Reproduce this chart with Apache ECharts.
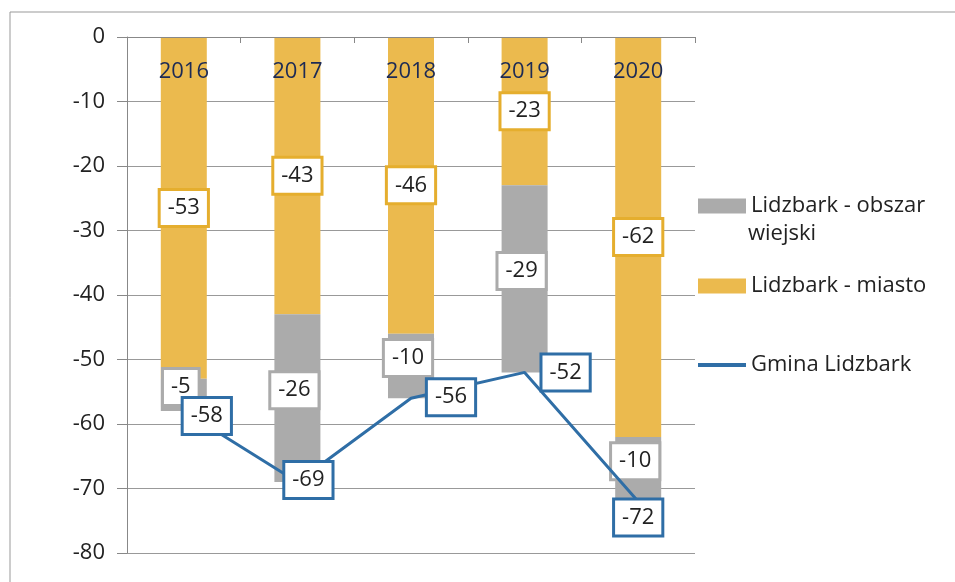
<!DOCTYPE html>
<html>
<head>
    <meta charset="utf-8"/>
    <title>Lidzbark</title>
    <script src="https://cdn.jsdelivr.net/npm/echarts@6.0.0/dist/echarts.min.js"></script>
</head>
<body style="margin:0;background:#fff;">
<div id="chart" style="width: 955px;height:582px;"></div>
<script type="text/javascript">
    var years = ['2016', '2017', '2018', '2019', '2020'];
    var miasto = [-53, -43, -46, -23, -62];
    var wiejski = [-5, -26, -10, -29, -10];
    var gmina = [-58, -69, -56, -52, -72];
    var yTicks = [0, -10, -20, -30, -40, -50, -60, -70, -80];
    // label nudges (px) for the line labels, as in the original
    var gminaLabelOffset = [[23, 5], [11, -2], [40, -1], [41, 0], [0, 16]];

    var font = '"Open Sans", sans-serif';
    var yellow = '#EBBA4E';
    var grey = '#ABABAB';
    var blue = '#2F6EA6';

    function boxLabel(color) {
        return {
            show: true,
            position: 'inside',
            color: '#222',
            fontSize: 22,
            fontFamily: font,
            backgroundColor: '#fff',
            borderColor: color,
            borderWidth: 3,
            padding: [7, 7, 5, 7]
        };
    }

    var option = {
        animation: false,
        textStyle: { fontFamily: font },
        graphic: [
            {
                type: 'rect',
                shape: { x: 10, y: 12, width: 960, height: 600 },
                style: { fill: 'none', stroke: '#999', lineWidth: 1 }
            },
            {
                type: 'text',
                left: 748, top: 223,
                style: { text: 'wiejski', fontSize: 22, fontFamily: font, fill: '#222' }
            }
        ],
        grid: { left: 127, right: 260, top: 37, bottom: 29 },
        legend: [
            {
                data: [{ name: 'Lidzbark - obszar wiejski', icon: 'rect' }],
                left: 693, top: 190,
                itemWidth: 48, itemHeight: 15, itemGap: 7,
                formatter: function () { return 'Lidzbark - obszar'; },
                textStyle: { fontSize: 22, color: '#222' }
            },
            {
                data: [{ name: 'Lidzbark - miasto', icon: 'rect' }],
                left: 693, top: 270,
                itemWidth: 48, itemHeight: 15,
                textStyle: { fontSize: 22, color: '#222' }
            },
            {
                data: [{ name: 'Gmina Lidzbark', icon: 'rect' }],
                left: 693, top: 349,
                itemWidth: 48, itemHeight: 4,
                textStyle: { fontSize: 22, color: '#222' }
            }
        ],
        xAxis: {
            type: 'category',
            data: years,
            position: 'top',
            z: 10,
            axisLine: { lineStyle: { color: '#888', width: 1 } },
            axisTick: { show: true, inside: true, length: 6, lineStyle: { color: '#888' } },
            axisLabel: { inside: true, color: '#1c2a55', fontSize: 22, margin: 24 }
        },
        yAxis: {
            type: 'value',
            min: -80,
            max: 0,
            interval: 10,
            axisLine: { show: true, lineStyle: { color: '#888' } },
            axisTick: { show: true, length: 10, lineStyle: { color: '#888' } },
            axisLabel: {
                color: '#222', fontSize: 22, margin: 22,
                customValues: yTicks
            },
            splitLine: { lineStyle: { color: '#999', width: 1 } }
        },
        series: [
            {
                name: 'Lidzbark - miasto',
                type: 'bar',
                stack: 'total',
                barWidth: 46,
                itemStyle: { color: yellow },
                label: boxLabel('#E5AE2E'),
                data: miasto
            },
            {
                name: 'Lidzbark - obszar wiejski',
                type: 'bar',
                stack: 'total',
                barWidth: 46,
                itemStyle: { color: grey },
                label: Object.assign(boxLabel(grey), { offset: [-3, -8] }),
                data: wiejski
            },
            {
                name: 'Gmina Lidzbark',
                type: 'line',
                symbol: 'circle',
                symbolSize: 1,
                z: 5,
                lineStyle: { color: blue, width: 3 },
                itemStyle: { color: blue },
                label: boxLabel(blue),
                data: gmina.map(function (v, i) {
                    return { value: v, label: { position: 'inside', offset: gminaLabelOffset[i] } };
                })
            }
        ]
    };

    var chart = echarts.init(document.getElementById('chart'));
    chart.setOption(option);
</script>
</body>
</html>
